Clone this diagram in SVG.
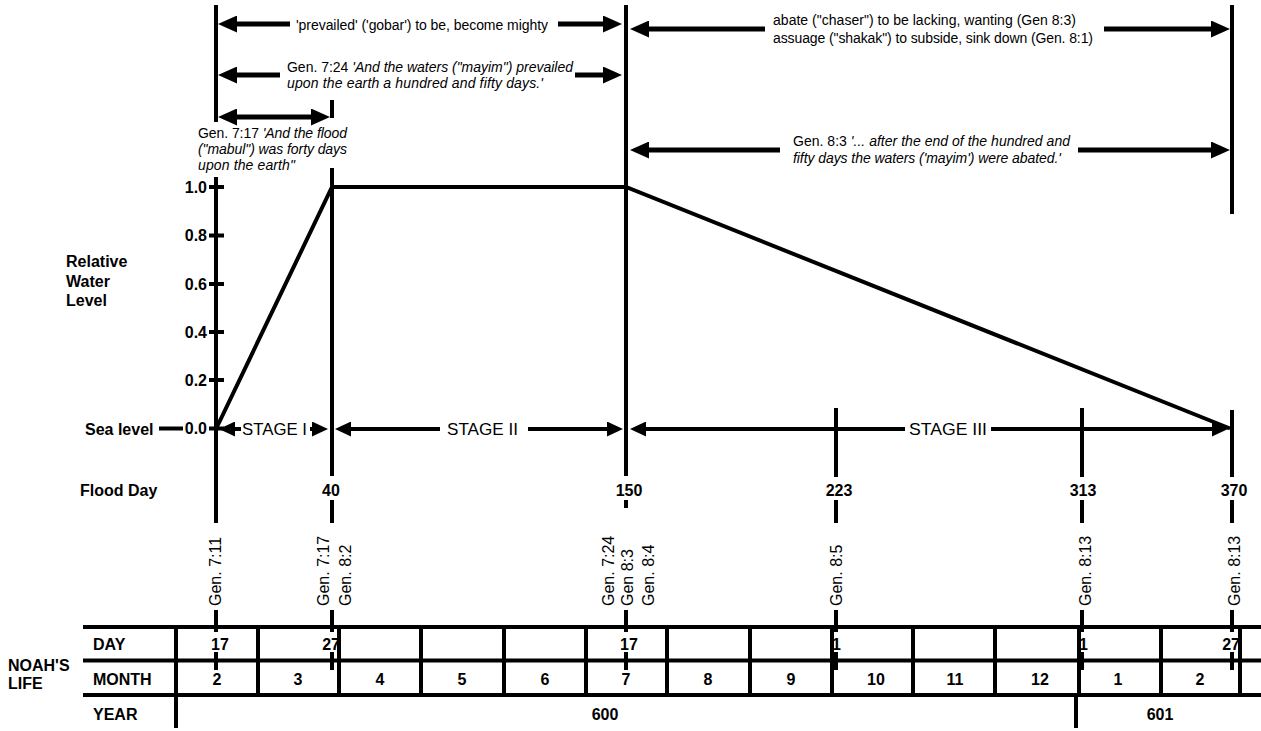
<svg xmlns="http://www.w3.org/2000/svg" width="1261" height="731" viewBox="0 0 1261 731">
<style>
.ln{stroke:#000;stroke-width:4;fill:none;stroke-linecap:butt}
.sh{stroke:#000;stroke-width:5;fill:none}
.ash{stroke:#000;stroke-width:5;fill:none;marker-end:url(#ah)}
.ass{stroke:#000;stroke-width:4;fill:none;marker-end:url(#ahs)}
text{font-family:"Liberation Sans",Arial,Helvetica,sans-serif;fill:#000}
.b{font-weight:bold;font-size:16px}
.t{font-size:14px}
.r{font-size:17px}
.v{font-size:16px}
.i{font-style:italic}
.mid{text-anchor:middle}
.end{text-anchor:end}
</style>
<defs>
<marker id="ah" markerUnits="userSpaceOnUse" viewBox="0 0 19 17" markerWidth="19" markerHeight="17" refX="3" refY="8.5" orient="auto-start-reverse"><path d="M0,0 L19,8.5 L0,17 Z" fill="#000"/></marker>
<marker id="ahs" markerUnits="userSpaceOnUse" viewBox="0 0 16 15" markerWidth="16" markerHeight="15" refX="3" refY="7.5" orient="auto-start-reverse"><path d="M0,0 L16,7.5 L0,15 Z" fill="#000"/></marker>
</defs>
<rect width="1261" height="731" fill="#fff"/>

<g id="timeline-lines">
<path class="ln" d="M216,5V122 M216,177V523 M216,610V632 M216,652V670"/>
<path class="ln" d="M332,100V118 M332,168V476 M332,500V523 M332,610V632 M332,652V670"/>
<path class="ln" d="M626,5V476 M626,500V508 M626,610V632 M626,652V670"/>
<path class="ln" d="M836,408V477 M836,500V523 M836,610V632 M836,652V670"/>
<path class="ln" d="M1082,408V477 M1082,500V523 M1082,610V632 M1082,652V670"/>
<path class="ln" d="M1232,5V214 M1232,410V477 M1232,500V523 M1232,610V632 M1232,652V670"/>
</g>

<g id="y-axis">
<path class="ln" d="M209,187H224 M209,235.5H224 M209,284H224 M209,332H224 M209,380H224 M209,428.5H224 M159,428.5H183"/>
<text class="b end" x="207" y="193">1.0</text>
<text class="b end" x="207" y="241">0.8</text>
<text class="b end" x="207" y="290">0.6</text>
<text class="b end" x="207" y="338">0.4</text>
<text class="b end" x="207" y="386">0.2</text>
<text class="b end" x="207" y="434">0.0</text>
<text class="b" x="85" y="435">Sea level</text>
<text class="b" x="66" y="267">Relative</text>
<text class="b" x="66" y="287">Water</text>
<text class="b" x="66" y="306">Level</text>
</g>

<g id="water-level">
<polyline class="ln" points="216,429 332,187 626,187 1230,428.5"/>
</g>

<g id="flood-days">
<text class="b" x="80" y="496">Flood Day</text>
<text class="b mid" x="331" y="496">40</text>
<text class="b mid" x="629" y="496">150</text>
<text class="b mid" x="839" y="496">223</text>
<text class="b mid" x="1083" y="496">313</text>
<text class="b mid" x="1234" y="496">370</text>
</g>

<g id="verses">
<text class="v" transform="translate(221,606) rotate(-90)">Gen. 7:11</text>
<text class="v" transform="translate(329,606) rotate(-90)">Gen. 7:17</text>
<text class="v" transform="translate(351,606) rotate(-90)">Gen. 8:2</text>
<text class="v" transform="translate(614,606) rotate(-90)">Gen. 7:24</text>
<text class="v" transform="translate(633,606) rotate(-90)">Gen 8:3</text>
<text class="v" transform="translate(654,606) rotate(-90)">Gen. 8:4</text>
<text class="v" transform="translate(842,606) rotate(-90)">Gen. 8:5</text>
<text class="v" transform="translate(1091,606) rotate(-90)">Gen. 8:13</text>
<text class="v" transform="translate(1240,606) rotate(-90)">Gen. 8:13</text>
</g>

<g id="connectors">
<line class="ash" x1="290" y1="24" x2="234" y2="24"/>
<line class="ash" x1="558" y1="24" x2="606" y2="24"/>
<line class="ash" x1="280" y1="75" x2="234" y2="75"/>
<line class="ash" x1="575" y1="75" x2="606" y2="75"/>
<line class="sh" x1="234" y1="117" x2="314" y2="117" marker-start="url(#ah)" marker-end="url(#ah)"/>
<line class="ash" x1="765" y1="29" x2="646" y2="29"/>
<line class="ash" x1="1104" y1="29" x2="1214" y2="29"/>
<line class="ash" x1="780" y1="150" x2="646" y2="150"/>
<line class="ash" x1="1078" y1="150" x2="1214" y2="150"/>
<line class="ass" x1="241" y1="429" x2="232" y2="429"/>
<line class="ass" x1="310" y1="429" x2="315" y2="429"/>
<line class="ass" x1="440" y1="429" x2="348" y2="429"/>
<line class="ass" x1="528" y1="429" x2="610" y2="429"/>
<line class="ass" x1="905" y1="429" x2="643" y2="429"/>
<line class="ass" x1="991" y1="429" x2="1215" y2="429"/>
</g>

<g id="stage-labels">
<text class="r" x="242" y="435" textLength="65" lengthAdjust="spacingAndGlyphs">STAGE I</text>
<text class="r" x="447" y="435" textLength="71" lengthAdjust="spacingAndGlyphs">STAGE II</text>
<text class="r" x="909" y="435" textLength="78" lengthAdjust="spacingAndGlyphs">STAGE III</text>
</g>

<g id="annotations">
<text class="t" x="296" y="30" textLength="252">'prevailed' ('gobar') to be, become mighty</text>
<text class="t" x="287" y="72" textLength="286">Gen. 7:24 <tspan class="i">'And the waters ("mayim") prevailed</tspan></text>
<text class="t i" x="287" y="88" textLength="256">upon the earth a hundred and fifty days.'</text>
<text class="t" x="198" y="138" textLength="149">Gen. 7:17 <tspan class="i">'And the flood</tspan></text>
<text class="t i" x="198" y="154" textLength="149">("mabul") was forty days</text>
<text class="t i" x="198" y="170" textLength="97">upon the earth"</text>
<text class="t" x="773" y="25" textLength="303">abate ("chaser") to be lacking, wanting (Gen 8:3)</text>
<text class="t" x="773" y="43" textLength="320">assuage ("shakak") to subside, sink down (Gen. 8:1)</text>
<text class="t" x="793" y="146" textLength="277">Gen. 8:3 <tspan class="i">'... after the end of the hundred and</tspan></text>
<text class="t i" x="793" y="163" textLength="268">fifty days the waters ('mayim') were abated.'</text>
</g>

<g id="table">
<path class="ln" d="M83,627H1261 M83,660.5H1261 M83,695H1261 M176,627V728 M1076,695V728"/>
<path class="ln" d="M258,627V695 M339,627V695 M421,627V695 M504,627V695 M586,627V695 M667,627V695 M750,627V695 M832,627V695 M913,627V695 M995,627V695 M1079,627V695 M1161,627V695 M1240,627V695"/>
<text class="b" x="8" y="671">NOAH'S</text>
<text class="b" x="8" y="689">LIFE</text>
<text class="b" x="93" y="650">DAY</text>
<text class="b" x="93" y="685">MONTH</text>
<text class="b" x="93" y="720">YEAR</text>
<text class="b" x="211" y="650">17</text>
<text class="b end" x="340" y="650">27</text>
<text class="b" x="620" y="650">17</text>
<text class="b" x="832" y="650">1</text>
<text class="b" x="1079" y="650">1</text>
<text class="b end" x="1240" y="650">27</text>
<text class="b mid" x="217" y="685">2</text>
<text class="b mid" x="298" y="685">3</text>
<text class="b mid" x="380" y="685">4</text>
<text class="b mid" x="462" y="685">5</text>
<text class="b mid" x="545" y="685">6</text>
<text class="b mid" x="626" y="685">7</text>
<text class="b mid" x="708" y="685">8</text>
<text class="b mid" x="791" y="685">9</text>
<text class="b mid" x="876" y="685">10</text>
<text class="b mid" x="955" y="685">11</text>
<text class="b mid" x="1040" y="685">12</text>
<text class="b mid" x="1118" y="685">1</text>
<text class="b mid" x="1200" y="685">2</text>
<text class="b mid" x="605" y="720">600</text>
<text class="b mid" x="1160" y="720">601</text>
</g>
</svg>
